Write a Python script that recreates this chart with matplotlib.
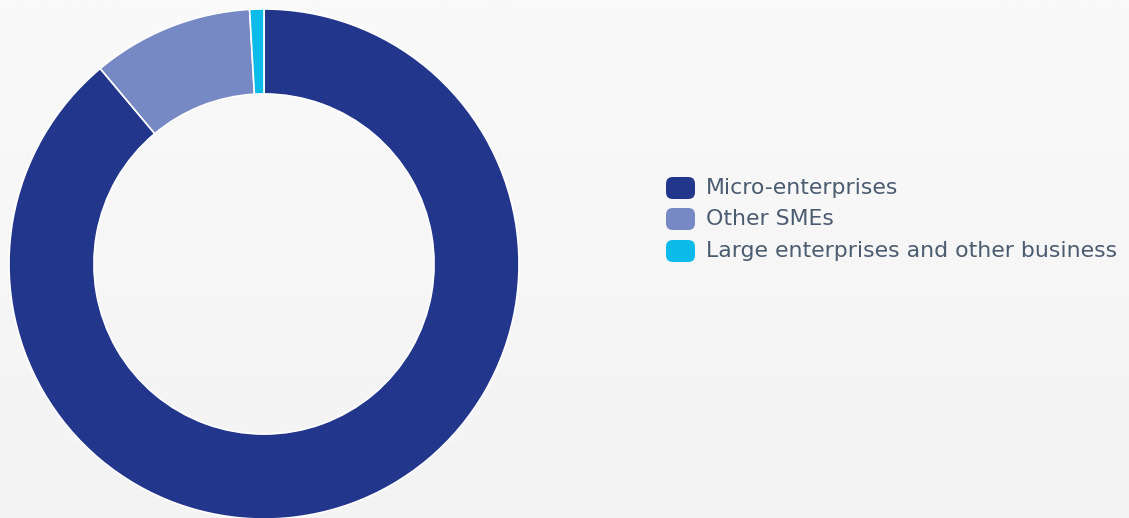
import numpy as np
import matplotlib
matplotlib.use("Agg")
import matplotlib.pyplot as plt
from matplotlib.patches import FancyBboxPatch
from matplotlib.colors import LinearSegmentedColormap

categories = ["Micro-enterprises", "Other SMEs", "Large enterprises and other business"]
values = [88.9, 10.2, 0.9]
colors = ["#22368C", "#7789C4", "#0DBBEB"]

W, H = 1129, 518
fig = plt.figure(figsize=(W / 100, H / 100), dpi=100)

# background gradient
bg = fig.add_axes([0, 0, 1, 1])
grad = np.linspace(0, 1, 256).reshape(-1, 1)
cmap = LinearSegmentedColormap.from_list("bg", ["#FAFAFA", "#F3F3F3"])
bg.imshow(grad, aspect="auto", cmap=cmap, extent=[0, 1, 0, 1], origin="upper")
bg.set_axis_off()

cx, cy, R = 264, 264, 255
ax = fig.add_axes([(cx - R) / W, (H - cy - R) / H, 2 * R / W, 2 * R / H])
ax.pie(values, colors=colors, startangle=90, counterclock=False, radius=1,
       wedgeprops=dict(width=0.333, edgecolor="white", linewidth=1.2))
ax.set_xlim(-1, 1)
ax.set_ylim(-1, 1)
ax.set_aspect("auto")
ax.set_axis_off()

# legend
rows_y = [188, 219, 251]
for lab, col, y in zip(categories, colors, rows_y):
    x0, w, h = 666, 29, 22
    p = FancyBboxPatch(((x0) / W, (H - y - h / 2) / H), w / W, h / H,
                       boxstyle="round,pad=0,rounding_size=0.006",
                       transform=fig.transFigure, facecolor=col, edgecolor="none",
                       mutation_aspect=W / H)
    fig.patches.append(p)
    fig.text(706 / W, (H - y) / H, lab, ha="left", va="center",
             fontsize=15.8, color="#4B5C70", family="DejaVu Sans")

fig.savefig("out.png", dpi=100)
